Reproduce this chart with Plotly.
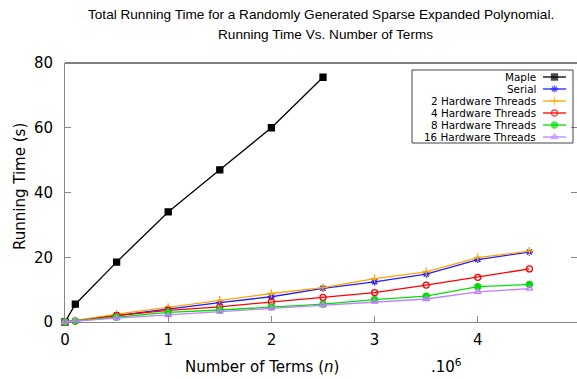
import plotly.graph_objects as go

# ---- data ----
x_terms = [0, 0.1, 0.5, 1, 1.5, 2, 2.5, 3, 3.5, 4, 4.5]
maple_x = [0, 0.1, 0.5, 1, 1.5, 2, 2.5]
maple = [0, 5.5, 18.5, 34, 47, 60, 75.6]
serial = [0, 0.4, 2.2, 4.1, 6.0, 7.8, 10.4, 12.4, 14.8, 19.3, 21.6]
hw2 = [0, 0.4, 2.4, 4.5, 6.7, 8.8, 10.6, 13.4, 15.5, 19.9, 21.9]
hw4 = [0, 0.3, 2.0, 3.6, 4.7, 6.2, 7.6, 9.1, 11.4, 13.8, 16.4]
hw8 = [0, 0.3, 1.5, 3.0, 3.7, 4.7, 5.5, 6.9, 8.0, 10.9, 11.6]
hw16 = [0, 0.3, 1.2, 2.1, 3.2, 4.2, 5.2, 6.3, 7.1, 9.3, 10.3]

names = ["Maple", "Serial", "2 Hardware Threads", "4 Hardware Threads",
         "8 Hardware Threads", "16 Hardware Threads"]
colors = ["#000000", "#1f1fff", "#ffa500", "#ff0000", "#00e000", "#c080ff"]
symbols = ["square", "asterisk-open", "cross-thin-open", "circle-open",
           "circle", "triangle-up-open"]
xs = [maple_x, x_terms, x_terms, x_terms, x_terms, x_terms]
ys = [maple, serial, hw2, hw4, hw8, hw16]

# layout geometry (pixels)
W, H = 577, 379
L, T, B, R = 65, 63, 57, 0
pw = W - L - R
ph = H - T - B


def px_x(p):
    return (p - L) / pw


def px_y(p):
    return (H - B - p) / ph


fig = go.Figure()
for n, c, s, xv, yv in zip(names, colors, symbols, xs, ys):
    fig.add_trace(go.Scatter(
        x=xv, y=yv, mode="lines+markers", name=n,
        line=dict(color=c, width=1.3),
        marker=dict(symbol=s, size=6, color=c,
                    line=dict(color=c, width=1.3)),
        showlegend=False, xaxis="x", yaxis="y", cliponaxis=False))

# custom legend samples (on a hidden overlay axis)
for i, (c, s) in enumerate(zip(colors, symbols)):
    fig.add_trace(go.Scatter(
        x=[0, 0.5, 1], y=[i, i, i], mode="lines+markers",
        line=dict(color=c, width=1.3),
        marker=dict(symbol=s, size=[0, 6, 0], color=c,
                    line=dict(color=c, width=1.3)),
        showlegend=False, xaxis="x2", yaxis="y2", hoverinfo="skip"))

box_top, box_bot = 70, 143
row0, rowstep = 77, 12
y2_top = (box_top - row0) / rowstep
y2_bot = (box_bot - row0) / rowstep

annotations = []
for i, n in enumerate(names):
    annotations.append(dict(
        text=n, x=px_x(538), y=i, xref="paper", yref="y2",
        xanchor="right", yanchor="middle", showarrow=False,
        font=dict(family="DejaVu Sans", size=10.4, color="#000")))

annotations += [
    dict(text="Total Running Time for a Randomly Generated Sparse Expanded Polynomial.",
         x=px_x(321), y=px_y(15), xref="paper", yref="paper", showarrow=False,
         xanchor="center", yanchor="middle",
         font=dict(family="Liberation Sans", size=13.6, color="#000")),
    dict(text="Running Time Vs. Number of Terms",
         x=px_x(325), y=px_y(34), xref="paper", yref="paper", showarrow=False,
         xanchor="center", yanchor="middle",
         font=dict(family="Liberation Sans", size=13.6, color="#000")),
    dict(text="Number of Terms (<i>n</i>)", x=px_x(262), y=px_y(367),
         xref="paper", yref="paper", showarrow=False, xanchor="center",
         yanchor="middle", font=dict(family="DejaVu Sans", size=15, color="#000")),
    dict(text=".10<sup>6</sup>", x=px_x(446), y=px_y(366),
         xref="paper", yref="paper", showarrow=False, xanchor="center",
         yanchor="middle", font=dict(family="DejaVu Sans", size=15, color="#000")),
    dict(text="Running Time (s)", x=px_x(20), y=px_y(187), textangle=-90,
         xref="paper", yref="paper", showarrow=False, xanchor="center",
         yanchor="middle", font=dict(family="DejaVu Sans", size=15, color="#000")),
]

xmax = pw / 103.2

fig.update_layout(
    width=W, height=H,
    margin=dict(l=L, r=R, t=T, b=B, pad=0),
    paper_bgcolor="white", plot_bgcolor="white",
    showlegend=False,
    xaxis=dict(range=[0, xmax], tickmode="array", tickvals=[0, 1, 2, 3, 4, 5],
               ticks="inside", ticklen=6, tickcolor="#888", showgrid=False,
               zeroline=False, showline=True, linecolor="#888", linewidth=1,
               mirror=False, ticklabelstandoff=4,
               tickfont=dict(family="DejaVu Sans", size=15, color="#000")),
    yaxis=dict(range=[0, 80], tickmode="array", tickvals=[0, 20, 40, 60, 80],
               ticks="inside", ticklen=6, tickcolor="#888", showgrid=False,
               zeroline=False, showline=True, linecolor="#888", linewidth=1,
               mirror="ticks", ticklabelstandoff=8,
               tickfont=dict(family="DejaVu Sans", size=15, color="#000")),
    xaxis2=dict(domain=[px_x(543), px_x(566)], range=[0, 1], visible=False,
                anchor="y2", fixedrange=True),
    yaxis2=dict(domain=[px_y(box_bot), px_y(box_top)], range=[y2_bot, y2_top],
                visible=False, anchor="x2", fixedrange=True),
    annotations=annotations,
    shapes=[
        dict(type="line", xref="paper", yref="paper", x0=0, x1=1, y0=1, y1=1,
             line=dict(color="#000", width=1)),
        dict(type="rect", xref="paper", yref="paper",
             x0=px_x(412), x1=px_x(573), y0=px_y(box_bot), y1=px_y(box_top),
             line=dict(color="#444", width=1), fillcolor="rgba(0,0,0,0)"),
    ],
)

fig.write_html("out.html")
